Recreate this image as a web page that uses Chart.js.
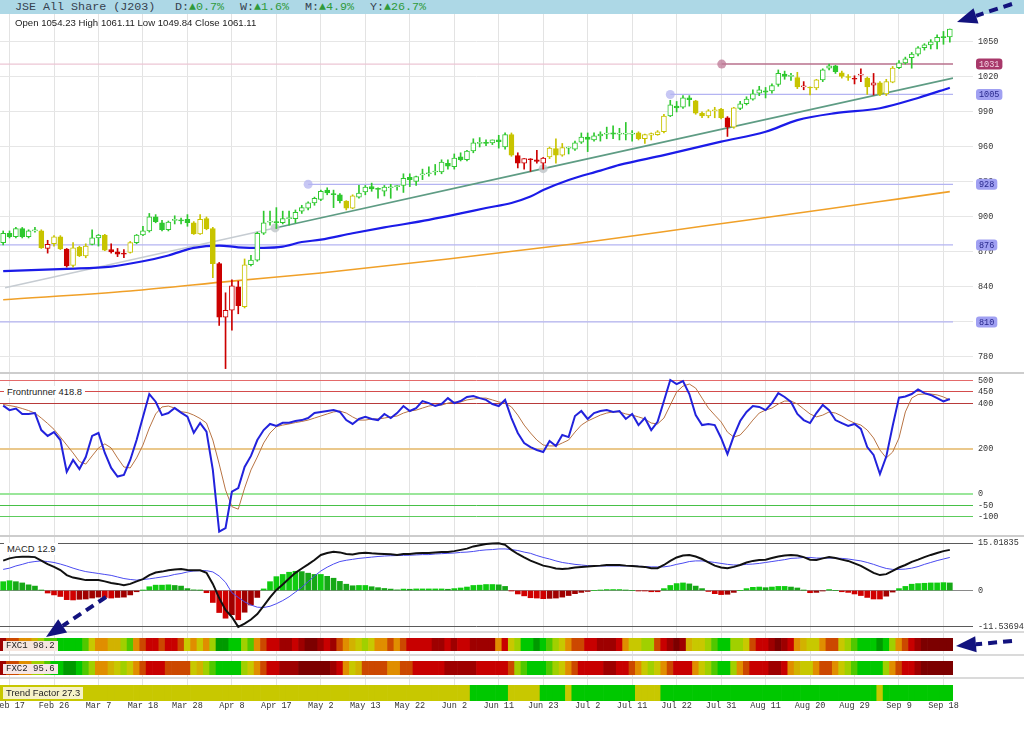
<!DOCTYPE html>
<html>
<head>
<meta charset="utf-8">
<title>JSE All Share (J203)</title>
<script src="https://cdn.jsdelivr.net/npm/chart.js@4.4.1/dist/chart.umd.min.js"></script>
<style>
  body { margin: 0; background: #fff; }
  #wrap { position: relative; width: 1024px; height: 735px; overflow: hidden; font-family: 'Liberation Sans', Arial, sans-serif; }
  #wrap canvas { position: absolute; left: 0; }
  .hdr { position: absolute; left: 0; top: 0; width: 1024px; height: 14px; background: #add8e6; font: 11.7px 'Liberation Mono', 'Courier New', monospace; line-height: 14px; color: #36414e; z-index: 5; }
  .hdr span { position: absolute; top: 0; white-space: pre; }
  .up { color: #2f9a3a; }
  .info { position: absolute; left: 15px; top: 17px; font-size: 9.6px; color: #222; white-space: pre; z-index: 5; }
  .sep { position: absolute; left: 0; width: 1024px; background: #cdcdcd; z-index: 4; }
  .tag { position: absolute; white-space: pre; padding: 0 3px; z-index: 6; color: #222; }
  .sans { font-size: 9.4px; line-height: 12px; height: 12px; }
  .mono { font: 9px 'Liberation Mono', 'Courier New', monospace; line-height: 10px; height: 10px; }
</style>
</head>
<body>
<div id="wrap">
  <div class="hdr">
    <span style="left:15px">JSE All Share (J203)</span>
    <span style="left:175px">D:<span class="up" style="position:static">▲0.7%</span></span>
    <span style="left:240px">W:<span class="up" style="position:static">▲1.6%</span></span>
    <span style="left:305px">M:<span class="up" style="position:static">▲4.9%</span></span>
    <span style="left:370px">Y:<span class="up" style="position:static">▲26.7%</span></span>
  </div>
  <canvas id="gridC" width="1024" height="697" style="top:14px;z-index:1"></canvas>
  <canvas id="priceC" width="1024" height="357" style="top:15px;z-index:2"></canvas>
  <canvas id="frC" width="1024" height="161" style="top:374px;z-index:2"></canvas>
  <canvas id="macdC" width="1024" height="94" style="top:537px;z-index:2"></canvas>
  <canvas id="fxc1C" width="1024" height="13" style="top:638px;z-index:2"></canvas>
  <canvas id="fxc2C" width="1024" height="14" style="top:661px;z-index:2"></canvas>
  <canvas id="trendC" width="1024" height="16" style="top:685px;z-index:2"></canvas>
  <div class="sep" style="top:372px;height:2px"></div>
  <div class="sep" style="top:535px;height:2px"></div>
  <div class="sep" style="top:631px;height:2px;background:#dadada"></div>
  <div class="sep" style="top:654px;height:2px;background:#dadada"></div>
  <div class="sep" style="top:677px;height:2px;background:#dadada"></div>
  <div class="info">Open 1054.23 High 1061.11 Low 1049.84 Close 1061.11</div>
  <div class="tag sans" style="left:4px;top:386px;background:#fff">Frontrunner 418.8</div>
  <div class="tag sans" style="left:4px;top:543px;background:#fff">MACD 12.9</div>
  <div class="tag mono" style="left:3px;top:641px;background:#f6e6de">FXC1 98.2</div>
  <div class="tag mono" style="left:3px;top:664px;background:#f6e6e6">FXC2 95.6</div>
  <div class="tag sans" style="left:3px;top:687px;background:#f6f2c8">Trend Factor 27.3</div>
  <canvas id="arrowC" width="1024" height="735" style="top:0;z-index:20"></canvas>
</div>
<script>
// trading days Feb 14 .. Sep 19 2025, x value = day index
const tickDays = [1, 8, 15, 22, 29, 36, 43, 50, 57, 64, 71, 78, 85, 92, 99, 106, 113, 120, 127, 134, 141, 148];
const tickLabels = ['Feb 17', 'Feb 26', 'Mar 7', 'Mar 18', 'Mar 28', 'Apr 8', 'Apr 17', 'May 2', 'May 13', 'May 22', 'Jun 2',
  'Jun 11', 'Jun 23', 'Jul 2', 'Jul 11', 'Jul 22', 'Jul 31', 'Aug 11', 'Aug 20', 'Aug 29', 'Sep 9', 'Sep 18'];
const priceTicks = [780, 810, 840, 870, 900, 930, 960, 990, 1020, 1050];

const open = [878,886,883,890,883,888,888,873,877,883,
  872.5,858.5,874,866.5,876.5,882,884.5,872,870,869,
  869.5,878,884.5,888,900,895,889,897,897.5,898,
  895,885.5,898.5,890,860,814,820,840,823,859,
  863,886,895.5,896,895,898.5,898.5,905,907.5,912,
  915,923,920,919,913.5,907.5,917,921.5,926,924.5,
  922,925,926,927,934,930.5,936,937,938.5,938.5,
  946,943,951.5,949,956.5,963,963.5,963.5,966,960,
  970.5,952.5,946,949.5,949,946,951.5,958.5,953,959,
  958,964,968.5,966,969.5,971,972,971,971,971,
  972,967,970,970.5,973,986.5,995,994,1002,999.5,
  989,986.5,991,992.5,985,977,993,997,1001,1006,
  1008,1008,1013.5,1022.5,1020.5,1019.5,1011.5,1011,1010.5,1017.5,
  1027.5,1029.5,1023.5,1020,1018.5,1021.5,1019,1013,1015,1005.5,
  1015.5,1028,1032,1036.5,1039.5,1045,1047.5,1050,1054,1054.23];
const high = [888,888,891,891,889,891,889,880,884,884,
  873,878,875,877,889,885,885,877,873,872,
  879,885,892,903,902,897,896.5,901,899,902,
  896,902,900,891,861,835,846,845,864,867,
  887,905,905,908,905,905,906,910,913,917,
  923,925,923,920,914,919,927,927,929,925,
  927,928,927,937,937,935,941,943,945,949,
  949,954,955,957,967,968,966,966,970,972,
  972,955,950,950,957,951,960,967,963,960,
  965,972,972,972,973,977,978,976,981,974,
  973,971,972,974,988,1000,999,1004,1004,1000,
  990,992,994,993,986,994,999,1003,1009,1012,
  1011,1014,1026,1025,1023,1024,1016,1011.5,1018,1027,
  1031,1030,1025,1022,1021,1027,1020,1023,1016,1018,
  1029,1034,1037,1041,1046,1048.5,1052,1056,1059,1061.11];
const low = [876,882,882,882,882,887,873,869,875,872,
  857,857,866,865,876,875,871,869,866,865,
  869,877,884,887,895,888,888,894,894,892,
  885,885,889,848,807,770,803,817,822,858,
  862,885,893,890,894,893,895,903,906,910,
  914,919,908,912,906,907,916,919,922,916,
  918,916,923,921,926,927,932,935,936,937,
  941,941,948,948,955,960,961,962,959,958,
  952,942,941,939,946,941,950,946,952,954,
  957,963,956,965,965,967,967,966,966,965,
  966,963,966,970,972,986,990,993,995,988,
  985,985,985,984,969,976,992,996,1000,1004,
  1002,1006,1012,1018,1017,1010,1009,1004.5,1009,1016,
  1026,1023,1019,1017,1014,1016,1005,1004.5,1004,1004,
  1015,1027,1031,1027.5,1038,1043,1044,1044,1048,1049.84];
const close = [886,883,890,883,888,889,873.5,876.5,883,872.5,
  858,873.5,866.5,875,882,884.5,871.5,870,868,868,
  878,884.5,888,900,896,889,895.5,898,896.5,895,
  885.5,898,890,860,814,820,841,824,859,863,
  886,895,896,895,898.5,899,904,908,912,916,
  922,920.5,919,914,907.5,918,920.5,925.5,924,923.5,
  925.5,925.5,926.5,933,932,934.5,936.5,937.5,939,947,
  943.5,950.5,949,956.5,963.5,963.5,963,966,964.5,970.5,
  953,946,950,949,947.5,950.5,959,953,959.5,959.5,
  963.5,968.5,966.5,969.5,971,971.5,971,971.5,971.5,971.5,
  967,970.5,971.5,973,986.5,996,993.5,1002,1000.5,989,
  986.5,991,991.5,985,977,993.5,997,1001,1005.5,1009,
  1007,1012.5,1023,1020.5,1020.5,1011.5,1011.5,1010.5,1017.5,1026,
  1029.5,1024.5,1020.5,1019.5,1018,1021.5,1011.5,1015,1005,1016,
  1027.5,1032,1035.5,1039.5,1045,1047.5,1050,1054,1053.7,1061.11];
// candle colour runs: g = green, y = yellow, r = red
const candleRuns = [['g',6],['y',1],['r',1],['y',2],['r',1],['y',3],['g',2],['y',1],['r',3],['y',1],['g',9],['y',4],['r',4],['y',1],
  ['g',15],['y',2],['g',24],['y',1],['r',5],['y',3],['g',11],['y',5],['g',4],['y',5],['r',1],['y',1],['g',9],['y',1],['r',1],
  ['y',2],['g',3],['y',2],['r',2],['y',1],['r',1],['y',3],['g',9]];

const ma50Day = [0,10,17,22,26,30,34,37,41,44,47,50,55,60,67,72,76,80,83,85,89,94,97,104,113,120,125,131,138,144,149];
const ma50 = [853.5,855.5,857.5,862,867,873.5,875.5,874,873.5,874.5,878.5,880.5,886,891,897.5,903,907.7,912,917.5,923,931.7,939.7,944.6,953,964.6,973,983,989,993.2,1002,1010.8];
const ma200Day = [0,20,36,50,70,90,110,130,141,149];
const ma200 = [829,836.5,845,852,864,877,892,907,915.5,921.7];
const trendDay = [0.3, 42.8, 85, 149.5];
const trendVal = [839.4, 890.6, 941.4, 1019];
const levels = [1031, 1005, 928, 876, 810];
const levelFrom = [113.1, 105, 48, -0.5, -0.5];

const frontrunner = [390,370,377,353,353,357,282,256,273,238,
  98,150,110,163,256,269,181,115,77,84,
  150,238,340,441,407,348,357,379,359,341,
  270,313,275,106,-166,-150,10,26,119,168,
  238,282,309,300,314,314,322,326,335,357,
  362,366,370,362,326,309,331,340,331,326,
  353,335,357,388,366,379,410,401,388,397,
  423,401,410,428,432,423,415,397,388,415,
  335,269,225,207,194,185,234,212,260,251,
  344,366,331,357,366,370,362,366,331,353,
  304,335,282,318,410,503,485,498,441,348,
  304,309,304,247,176,256,322,362,388,384,
  370,401,445,428,406,353,326,313,357,393,
  370,326,313,300,309,287,207,172,88,165,
  300,425,430,441,461,445,437,423,408,418.8];
const frSignal = [395,390,385,377,368,357,335,311,285,251,
  216,181,143,132,168,203,221,203,159,119,
  115,159,216,291,353,384,388,379,363,359,
  348,333,313,238,132,18,-56,-67,26,106,
  163,225,269,297,304,309,315,320,326,335,
  344,353,362,366,357,340,326,326,331,331,
  335,340,344,357,366,370,379,388,392,392,
  401,406,406,415,419,423,423,415,406,401,
  384,348,304,269,238,216,212,212,225,238,
  273,304,322,335,348,357,362,362,353,348,
  340,331,313,309,335,392,450,476,485,467,
  423,379,348,318,273,251,260,291,326,357,
  370,379,397,410,410,397,375,353,340,348,
  362,357,344,326,313,304,282,247,194,159,
  185,247,362,423,439,441,441,437,428,415];
const frLevels = [500, 450, 400, 200, 0, -50, -100];

const macd = [9.5,10.2,10.6,10.7,10.7,10.6,9.5,8.4,7.5,6.5,
  4.9,4.1,3.7,3.3,3.3,3.3,2.9,2.4,2.1,1.7,
  2.1,2.9,3.6,4.9,5.7,6.0,6.4,6.7,6.8,6.5,
  6.4,6.4,5.6,2.1,-2.4,-6.2,-8.4,-11.54,-10.5,-9.2,
  -7.5,-4.9,-2.2,0.2,1.9,3.8,5.6,7.0,8.3,9.7,
  11.3,11.9,12.3,12.1,11.6,11.4,11.8,12.0,11.8,11.7,
  11.6,11.5,11.3,11.6,11.6,11.8,11.9,11.9,12.1,12.2,
  12.2,12.5,12.9,13.3,14.0,14.4,14.8,14.9,15.02,14.5,
  12.9,11.6,10.5,9.5,8.7,7.9,7.5,7.0,6.8,7.0,
  7.3,7.5,7.6,7.8,7.9,8.1,8.1,8.1,7.9,7.8,
  7.6,7.5,7.1,7.1,8.1,9.4,10.5,11.1,11.3,10.8,
  10.0,8.9,7.9,7.3,7.1,7.5,8.1,8.9,9.4,9.7,
  9.8,10.3,10.8,11.1,11.3,11.1,10.6,9.8,9.7,10.2,
  10.6,10.3,9.8,9.4,8.6,7.8,6.7,5.6,4.9,5.2,
  6.2,7.3,8.1,9.1,9.8,10.6,11.3,11.9,12.5,12.9];
const macdSignal = [6.7,7.1,7.8,8.3,8.9,9.2,9.4,9.2,8.9,8.4,
  7.8,7.1,6.5,6.0,5.7,5.4,5.1,4.8,4.3,3.8,
  3.5,3.3,3.5,3.7,4.0,4.3,4.6,5.1,5.4,5.9,
  6.2,6.3,6.3,5.9,4.6,2.6,-0.7,-2.2,-3.6,-4.6,
  -5.3,-5.4,-5.0,-4.2,-3.2,-2.0,-0.5,1.0,2.8,4.6,
  6.2,7.4,8.4,9.2,9.6,9.9,10.2,10.4,10.6,10.8,
  10.95,11.05,11.1,11.15,11.2,11.3,11.4,11.4,11.6,11.7,
  11.8,11.9,12.1,12.2,12.4,12.7,12.9,13.0,13.2,13.2,
  13.0,12.7,12.2,11.8,11.1,10.5,10.0,9.4,8.9,8.6,
  8.3,8.1,7.9,7.8,7.8,7.8,7.8,7.8,7.8,7.8,
  7.7,7.6,7.5,7.5,7.5,7.8,8.3,8.7,9.2,9.4,
  9.4,9.2,8.9,8.6,8.3,8.1,8.1,8.3,8.4,8.6,
  8.9,9.2,9.5,9.8,10.2,10.3,10.5,10.5,10.3,10.3,
  10.3,10.3,10.2,10.0,9.7,9.4,8.9,8.3,7.6,7.0,
  6.7,6.7,6.8,7.1,7.6,8.3,8.9,9.5,10.0,10.5];
const macdHist = [2.8,3.1,2.8,2.4,1.8,1.4,0.1,-0.8,-1.4,-1.9,
  -2.9,-3.0,-2.8,-2.7,-2.4,-2.1,-2.2,-2.4,-2.2,-2.1,
  -1.4,-0.4,0.1,1.2,1.7,1.7,1.8,1.6,1.4,0.6,
  0.2,0.1,-0.7,-3.8,-7.0,-8.8,-7.7,-9.3,-6.9,-4.6,
  -2.2,0.5,2.8,4.4,5.1,5.8,6.1,6.0,5.5,5.1,
  5.1,4.5,3.9,2.9,2.0,1.5,1.6,1.6,1.2,0.9,
  0.65,0.45,0.2,0.45,0.4,0.5,0.5,0.5,0.5,0.5,
  0.4,0.6,0.8,1.1,1.6,1.7,1.9,1.9,1.8,1.3,
  -0.1,-1.1,-1.7,-2.3,-2.4,-2.6,-2.5,-2.4,-2.1,-1.6,
  -1.0,-0.6,-0.3,0.0,0.1,0.3,0.3,0.3,0.1,0.0,
  -0.1,-0.1,-0.4,-0.4,0.6,1.6,2.2,2.4,2.1,1.4,
  0.6,-0.3,-1.0,-1.3,-1.2,-0.6,0.0,0.6,1.0,1.1,
  0.9,1.1,1.3,1.3,1.1,0.8,0.1,-0.7,-0.6,-0.1,
  0.3,0.0,-0.4,-0.6,-1.1,-1.6,-2.2,-2.7,-2.7,-1.8,
  -0.5,0.6,1.3,2.0,2.2,2.3,2.4,2.4,2.5,2.4];
const macdTicks = [15.01835, 0, -11.53694];

// FXC heat levels: 0 = darkest red ... 10 = dark green
const fxc1 = [1,3,3,4,4,5,7,8,8,9, 9,9,9,8,6,4,4,5,5,7, 8,4,3,2,2,3,2,2,3,6, 4,6,4,7,10,10,9,9,7,8,
  4,3,2,2,1,1,2,1,0,0, 1,2,1,3,4,5,6,7,6,4, 4,3,4,3,2,2,2,2,1,1, 2,1,2,2,1,1,1,1,4,2,
  6,7,9,9,10,9,8,7,6,4, 3,3,2,2,1,1,1,2,4,6, 6,7,7,3,2,1,0,1,5,6, 6,7,8,9,9,7,7,6,3,2,
  2,1,0,1,2,4,5,6,6,4, 3,3,6,7,8,9,9,9,10,9, 7,4,3,2,1,0,0,0,0,0];
const fxc2 = [1,3,3,4,4,7,7,8,9,9, 10,10,9,8,7,4,4,5,6,7, 6,4,3,2,2,2,3,3,3,3, 6,5,7,8,9,9,9,9,7,6,
  4,3,2,2,1,1,1,0,0,0, 0,0,1,2,4,6,5,3,3,3, 3,4,4,3,3,2,2,2,2,2, 1,1,1,1,1,2,2,2,2,2,
  3,7,8,9,9,9,8,7,6,4, 3,2,2,2,2,1,1,2,2,3, 4,6,7,6,4,3,2,2,2,4, 6,7,8,9,9,7,4,3,2,2,
  2,1,1,2,4,5,6,6,4,3, 3,4,6,7,8,9,9,9,9,7, 4,3,2,2,1,0,0,0,0,0];
// trend factor runs: 0 = yellow, 1 = green
const trendRuns = [[0,74],[1,6],[0,5],[1,4],[0,1],[1,10],[0,4],[1,34],[0,1],[1,11]];

const N = close.length;
const X_MIN = -0.5, X_MAX = N - 0.5;
const AXIS_W = 71;
const MONO = "'Liberation Mono', 'Courier New', monospace";
const tickFont = { family: MONO, size: 8.5 };
const candlePal = { g: '#2ec82e', y: '#c8c400', r: '#cc0000' };
const candleCol = candleRuns.flatMap(([c, n]) => Array(n).fill(candlePal[c]));
const heatPal = ['#7c0000', '#9e0000', '#c80000', '#cc4800', '#e08e00', '#d2b200', '#c8c800', '#a0d000', '#50c800', '#00c800', '#009a00'];
const trendFlags = trendRuns.flatMap(([v, n]) => Array(n).fill(v));

Chart.defaults.font.family = "'Liberation Sans', Arial, sans-serif";

const pts = (arr, xs) => arr.map((v, i) => ({ x: xs ? xs[i] : i, y: v }));

function xAxis() {
  return { type: 'linear', min: X_MIN, max: X_MAX, display: false, offset: false, grid: { offset: false } };
}
function yAxisRight(min, max, tickVals, extra) {
  return Object.assign({
    position: 'right', min, max, bounds: 'data',
    afterBuildTicks: s => { s.ticks = tickVals.map(v => ({ value: v })); },
    afterFit: s => { s.width = AXIS_W; s.paddingTop = 0; s.paddingBottom = 0; },
    border: { display: false },
    ticks: { font: tickFont, color: '#333', padding: 5, callback: v => String(v) }
  }, extra);
}
function baseOptions(scales, padRight) {
  return {
    responsive: false, animation: false, events: [],
    layout: { padding: { left: 0, top: 0, bottom: 0, right: padRight || 0 }, autoPadding: false },
    plugins: { legend: { display: false }, tooltip: { enabled: false } },
    scales
  };
}

// background chart: vertical grid and date labels
new Chart(document.getElementById('gridC'), {
  type: 'line',
  data: { datasets: [{ data: [] }] },
  options: baseOptions({
    x: {
      type: 'linear', min: X_MIN, max: X_MAX, position: 'bottom',
      afterBuildTicks: s => { s.ticks = tickDays.map(v => ({ value: v })); },
      afterFit: s => { s.paddingLeft = 0; s.paddingRight = 0; },
      grid: { color: '#e3e3e3', drawTicks: false },
      border: { display: false },
      ticks: { font: tickFont, color: '#333', padding: 0, maxRotation: 0, autoSkip: false,
        callback: v => tickLabels[tickDays.indexOf(v)] }
    },
    y: { display: false, min: 0, max: 1 }
  }, AXIS_W)
});

// price panel
const levelBoxes = {
  id: 'levelBoxes',
  afterDraw(chart) {
    const { ctx, chartArea, scales: { y } } = chart;
    ctx.save();
    ctx.font = '8.5px ' + MONO;
    ctx.textBaseline = 'middle';
    levels.forEach((v, k) => {
      const py = y.getPixelForValue(v);
      const txt = String(v);
      const w = ctx.measureText(txt).width + 6;
      const x0 = chartArea.right + 23;
      ctx.fillStyle = k === 0 ? '#a8386a' : '#a0a0f2';
      ctx.beginPath();
      ctx.roundRect(x0, py - 5.5, w, 11, 3);
      ctx.fill();
      ctx.fillStyle = k === 0 ? '#f4d4e2' : '#28288c';
      ctx.fillText(txt, x0 + 3, py + 0.5);
    });
    ctx.restore();
  }
};

const levelSets = levels.map((v, k) => ({
  type: 'line', order: 5,
  data: [{ x: levelFrom[k], y: v }, { x: X_MAX, y: v }],
  borderColor: k === 0 ? '#b8708c' : '#b4b4f2',
  borderWidth: k === 0 ? 1.5 : 1.2,
  pointRadius: ctx => (ctx.dataIndex === 0 && levelFrom[k] > X_MIN ? 4.5 : 0),
  pointBackgroundColor: k === 0 ? 'rgba(190,120,150,0.75)' : 'rgba(180,180,240,0.75)',
  pointBorderWidth: 0
}));

new Chart(document.getElementById('priceC'), {
  type: 'bar',
  data: {
    datasets: [
      {
        type: 'bar', order: 0, grouped: false,
        data: close.map((c, i) => ({ x: i, y: [open[i], c] })),
        backgroundColor: close.map((c, i) => (c < open[i] ? candleCol[i] : '#ffffff')),
        borderColor: candleCol, borderWidth: 1, borderSkipped: false,
        barThickness: 5, minBarLength: 1
      },
      {
        type: 'bar', order: 1, grouped: false,
        data: close.map((c, i) => ({ x: i, y: [low[i], high[i]] })),
        backgroundColor: candleCol, barThickness: 1
      },
      {
        type: 'line', order: 2, data: pts(ma50, ma50Day),
        borderColor: '#1b1be8', borderWidth: 2.2, pointRadius: 0, cubicInterpolationMode: 'monotone'
      },
      {
        type: 'line', order: 3, data: pts(ma200, ma200Day),
        borderColor: '#f0a028', borderWidth: 1.6, pointRadius: 0, cubicInterpolationMode: 'monotone'
      },
      {
        type: 'line', order: 4, data: pts(trendVal.slice(0, 2), trendDay.slice(0, 2)),
        borderColor: '#c6ccd2', borderWidth: 1.5, pointRadius: 0
      },
      {
        type: 'line', order: 4, data: pts(trendVal.slice(1), trendDay.slice(1)),
        borderColor: '#5e9c84', borderWidth: 1.6,
        pointRadius: ctx => (ctx.dataIndex < 2 ? 4.5 : 0),
        pointBackgroundColor: 'rgba(190,196,200,0.8)', pointBorderWidth: 0
      },
      {
        type: 'line', order: 6, data: [{ x: X_MIN, y: levels[0] }, { x: levelFrom[0], y: levels[0] }],
        borderColor: '#ecc6d4', borderWidth: 1.2, pointRadius: 0
      },
      ...levelSets
    ]
  },
  options: baseOptions({
    x: xAxis(),
    y: yAxisRight(767.1, 1073.1, priceTicks, { grid: { color: '#e6e6e6', tickLength: 20 } })
  }),
  plugins: [levelBoxes]
});

// Frontrunner panel
const frColors = { 500: '#e46a6a', 450: '#d44c4c', 400: '#b83a3a', 200: '#eac88c', 0: '#9ae69a', '-50': '#46c046', '-100': '#5ccc5c' };
new Chart(document.getElementById('frC'), {
  type: 'line',
  data: {
    datasets: [
      { data: pts(frontrunner), borderColor: '#2222dc', borderWidth: 2, pointRadius: 0, order: 0 },
      { data: pts(frSignal), borderColor: '#b87444', borderWidth: 1, pointRadius: 0, order: 1 }
    ]
  },
  options: baseOptions({
    x: xAxis(),
    y: yAxisRight(-180.9, 529.3, frLevels, {
      grid: {
        tickLength: 20,
        color: ctx => frColors[ctx.tick ? ctx.tick.value : 0] || '#ddd',
        lineWidth: ctx => (ctx.tick && (ctx.tick.value === 200 || ctx.tick.value === 0) ? 2 : 1)
      }
    })
  })
});

// MACD panel
const histCol = macdHist.map((h, i) => {
  const prev = i ? macdHist[i - 1] : h;
  if (h >= 0) return h >= prev ? '#10cc10' : '#16a816';
  return h <= prev ? '#d00000' : '#a00000';
});
new Chart(document.getElementById('macdC'), {
  type: 'bar',
  data: {
    datasets: [
      { type: 'line', data: pts(macd), borderColor: '#111', borderWidth: 2, pointRadius: 0, order: 0 },
      { type: 'line', data: pts(macdSignal), borderColor: '#4a4af0', borderWidth: 1, pointRadius: 0, order: 1 },
      { type: 'bar', data: pts(macdHist), backgroundColor: histCol, barThickness: 5, order: 2 }
    ]
  },
  options: baseOptions({
    x: xAxis(),
    y: yAxisRight(-12.86, 16.99, macdTicks, {
      grid: { tickLength: 20, color: ctx => (ctx.tick && ctx.tick.value === 0 ? '#8a8a8a' : '#5a5a5a') }
    })
  })
});

// heat strips
function strip(id, colors) {
  new Chart(document.getElementById(id), {
    type: 'bar',
    data: {
      datasets: [{
        data: colors.map((c, i) => ({ x: i, y: [0, 1] })),
        backgroundColor: colors, borderWidth: 0, barPercentage: 1, categoryPercentage: 1
      }]
    },
    options: baseOptions({ x: xAxis(), y: { display: false, min: 0, max: 1 } }, AXIS_W)
  });
}
strip('fxc1C', fxc1.map(v => heatPal[v]));
strip('fxc2C', fxc2.map(v => heatPal[v]));
strip('trendC', trendFlags.map(v => (v ? '#00c800' : '#c8c800')));

// annotation arrows
(function () {
  const ctx = document.getElementById('arrowC').getContext('2d');
  function arrow(x1, y1, x2, y2) {
    const a = Math.atan2(y2 - y1, x2 - x1);
    const hl = 20, hw = 8;
    const bx = x2 - hl * Math.cos(a), by = y2 - hl * Math.sin(a);
    ctx.strokeStyle = '#13137e';
    ctx.fillStyle = '#13137e';
    ctx.lineWidth = 4;
    ctx.setLineDash([9, 6]);
    ctx.beginPath(); ctx.moveTo(x1, y1); ctx.lineTo(bx, by); ctx.stroke();
    ctx.setLineDash([]);
    ctx.beginPath();
    ctx.moveTo(x2, y2);
    ctx.lineTo(bx + hw * Math.sin(a), by - hw * Math.cos(a));
    ctx.lineTo(bx - hw * Math.sin(a), by + hw * Math.cos(a));
    ctx.closePath(); ctx.fill();
  }
  arrow(1012, 4, 957, 22);
  arrow(106, 597, 46, 637);
  arrow(1012, 641, 956, 646);
})();
</script>
</body>
</html>
